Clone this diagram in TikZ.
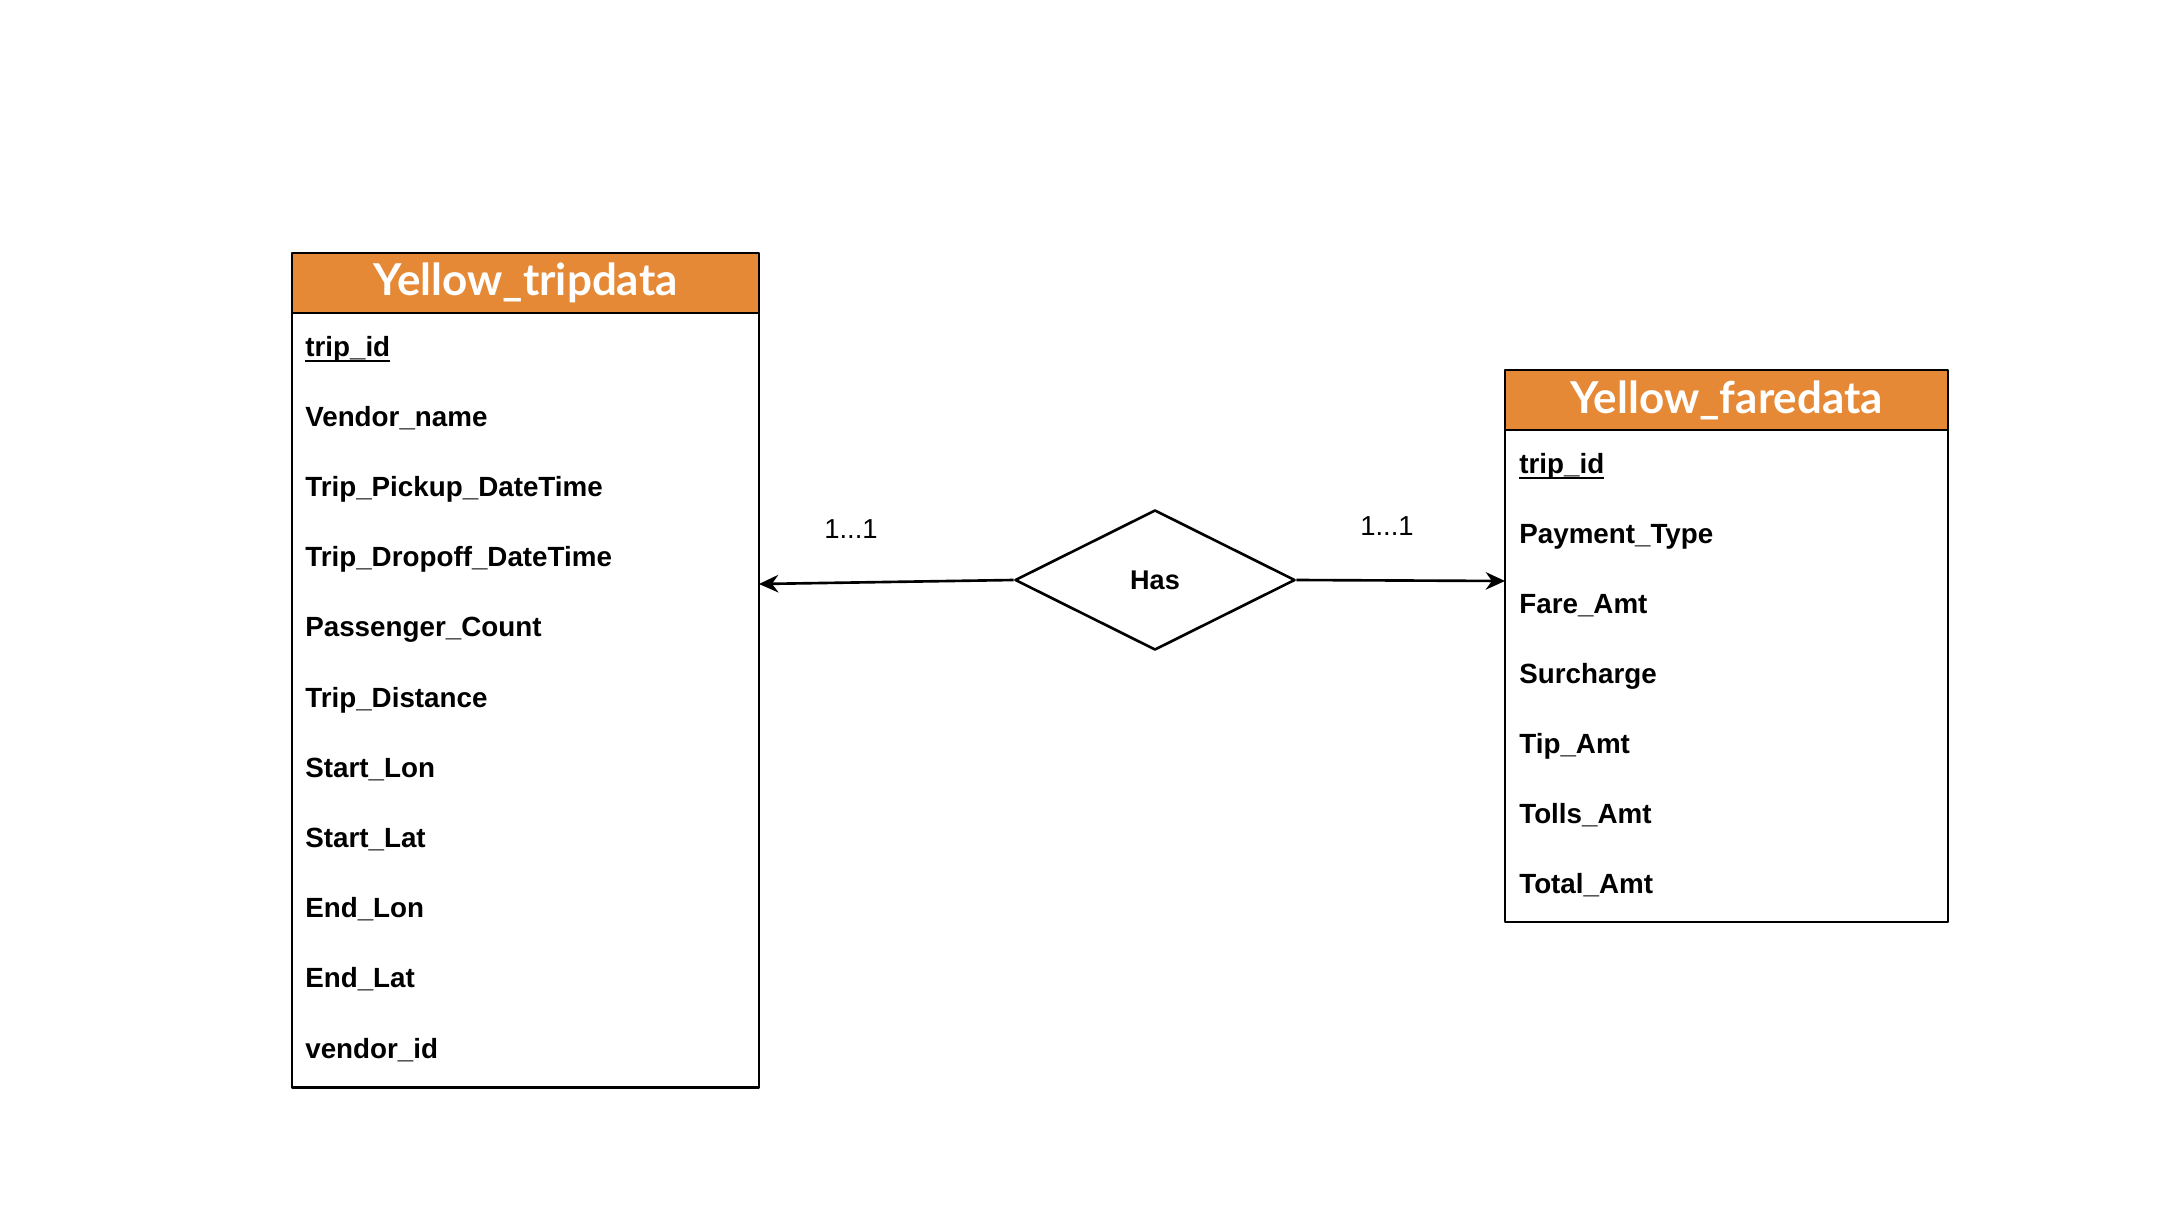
\documentclass[tikz,border=0pt]{standalone}
\usepackage{fontspec}
\setmainfont{Liberation Sans}
\newfontfamily\latofont{Lato}
\usetikzlibrary{shapes.geometric,arrows.meta}
\definecolor{hdrorange}{RGB}{230,137,54}
\newcommand\keyfield[1]{\underline{\smash{#1}}}
\tikzset{
  tblhead/.style={draw,fill=hdrorange,text=white,inner sep=0pt,
    font=\latofont\bfseries\fontsize{12.5}{14}\selectfont},
  tblbody/.style={draw,inner sep=0pt},
  field/.style={anchor=base west,inner sep=0pt,font=\bfseries\fontsize{7.9}{9}\selectfont},
  card/.style={inner sep=0pt,font=\fontsize{7.8}{9}\selectfont},
}
\begin{document}
\begin{tikzpicture}[>={Stealth[length=5.5pt,width=5pt,inset=1.8pt]},x=0.01cm,y=-0.01cm,line width=0.75pt,line join=round]
  \useasboundingbox (0,0) rectangle (2160,1218);
  % tabla de viajes
  \node[tblbody,minimum width=4.67cm,minimum height=7.74cm] (tripbody) at (525.5,700) {};
  \node[tblhead,minimum width=4.67cm,minimum height=0.6cm] (triphead) at (525.5,283) {Yellow\_tripdata};
  \foreach \t [count=\i from 0] in {\keyfield{trip\_id},Vendor\_name,Trip\_Pickup\_DateTime,
      Trip\_Dropoff\_DateTime,Passenger\_Count,Trip\_Distance,Start\_Lon,Start\_Lat,
      End\_Lon,End\_Lat,vendor\_id}
    \node[field] (tf\i) at (304,{356+70.2*\i}) {\t};
  % tabla de tarifas
  \node[tblbody,minimum width=4.43cm,minimum height=4.92cm] (farebody) at (1726.5,676) {};
  \node[tblhead,minimum width=4.43cm,minimum height=0.6cm] (farehead) at (1726.5,400) {Yellow\_faredata};
  \foreach \t [count=\i from 0] in {\keyfield{trip\_id},Payment\_Type,Fare\_Amt,Surcharge,
      Tip\_Amt,Tolls\_Amt,Total\_Amt}
    \node[field] (ff\i) at (1518,{473+70.1*\i}) {\t};
  % relacion
  \node[draw,diamond,aspect=2,minimum width=2.8cm,minimum height=1.4cm,inner sep=0pt,
    font=\bfseries\fontsize{7.7}{9}\selectfont] (has) at (1155,580) {Has};
  \coordinate (ltip) at (759,584);
  \coordinate (rtip) at (1505,581);
  \draw[->] (has.west) -- (ltip);
  \draw[->] (has.east) -- (rtip);
  \node[card] (lcard) at (851,529) {1...1};
  \node[card] (rcard) at (1387,526) {1...1};
\end{tikzpicture}
\end{document}
